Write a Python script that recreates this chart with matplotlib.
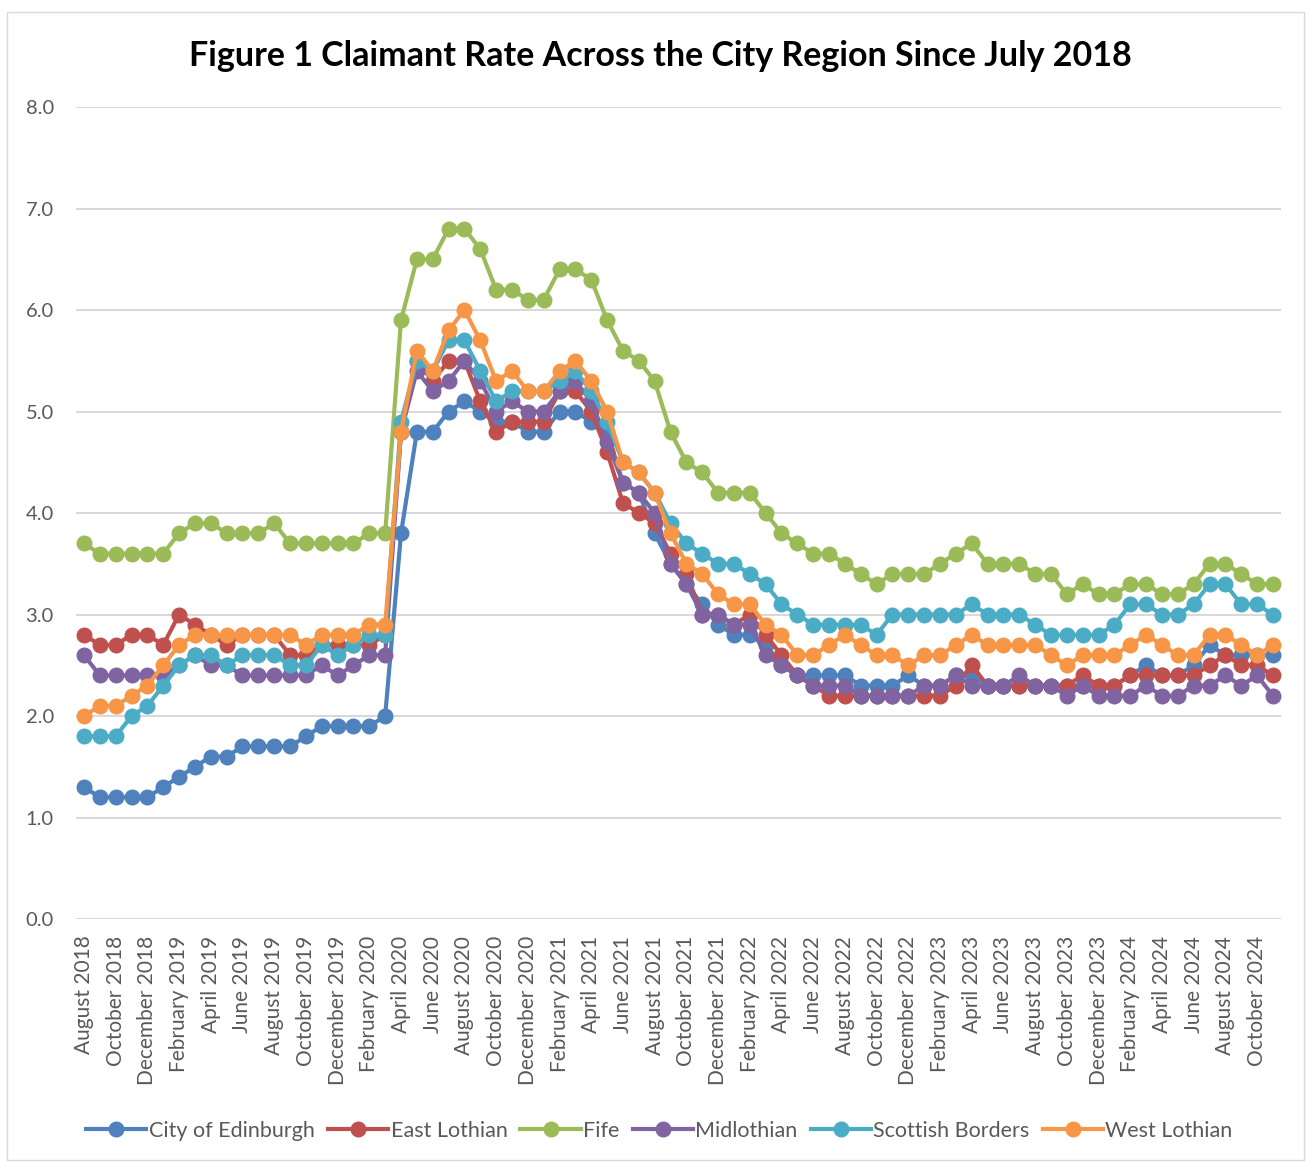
import matplotlib
matplotlib.use('Agg')
import matplotlib.pyplot as plt
from matplotlib.patches import Rectangle
import numpy as np
import pandas as pd

# monthly claimant rate, August 2018 - November 2024
months = pd.date_range('2018-08-01', periods=76, freq='MS').strftime('%B %Y').tolist()

edinburgh = [1.3, 1.2, 1.2, 1.2, 1.2, 1.3, 1.4, 1.5, 1.6, 1.6, 1.7, 1.7, 1.7, 1.7, 1.8, 1.9, 1.9, 1.9, 1.9, 2.0,
             3.8, 4.8, 4.8, 5.0, 5.1, 5.0, 4.9, 4.9, 4.8, 4.8, 5.0, 5.0, 4.9, 4.8, 4.3, 4.2, 3.8, 3.5, 3.3, 3.1,
             2.9, 2.8, 2.8, 2.7, 2.5, 2.4, 2.4, 2.4, 2.4, 2.3, 2.3, 2.3, 2.4, 2.3, 2.3, 2.4, 2.4, 2.3, 2.3, 2.3,
             2.3, 2.3, 2.3, 2.3, 2.3, 2.3, 2.4, 2.5, 2.4, 2.4, 2.5, 2.7, 2.6, 2.6, 2.6, 2.6]
east_lothian = [2.8, 2.7, 2.7, 2.8, 2.8, 2.7, 3.0, 2.9, 2.8, 2.7, 2.8, 2.8, 2.8, 2.6, 2.6, 2.7, 2.7, 2.7, 2.7, 2.8,
                4.8, 5.5, 5.3, 5.5, 5.5, 5.1, 4.8, 4.9, 4.9, 4.9, 5.2, 5.2, 5.0, 4.6, 4.1, 4.0, 3.9, 3.6, 3.4, 3.0,
                3.0, 2.9, 3.0, 2.8, 2.6, 2.4, 2.3, 2.2, 2.2, 2.2, 2.2, 2.2, 2.2, 2.2, 2.2, 2.3, 2.5, 2.3, 2.3, 2.3,
                2.3, 2.3, 2.3, 2.4, 2.3, 2.3, 2.4, 2.4, 2.4, 2.4, 2.4, 2.5, 2.6, 2.5, 2.5, 2.4]
fife = [3.7, 3.6, 3.6, 3.6, 3.6, 3.6, 3.8, 3.9, 3.9, 3.8, 3.8, 3.8, 3.9, 3.7, 3.7, 3.7, 3.7, 3.7, 3.8, 3.8,
        5.9, 6.5, 6.5, 6.8, 6.8, 6.6, 6.2, 6.2, 6.1, 6.1, 6.4, 6.4, 6.3, 5.9, 5.6, 5.5, 5.3, 4.8, 4.5, 4.4,
        4.2, 4.2, 4.2, 4.0, 3.8, 3.7, 3.6, 3.6, 3.5, 3.4, 3.3, 3.4, 3.4, 3.4, 3.5, 3.6, 3.7, 3.5, 3.5, 3.5,
        3.4, 3.4, 3.2, 3.3, 3.2, 3.2, 3.3, 3.3, 3.2, 3.2, 3.3, 3.5, 3.5, 3.4, 3.3, 3.3]
midlothian = [2.6, 2.4, 2.4, 2.4, 2.4, 2.4, 2.5, 2.6, 2.5, 2.5, 2.4, 2.4, 2.4, 2.4, 2.4, 2.5, 2.4, 2.5, 2.6, 2.6,
              4.8, 5.4, 5.2, 5.3, 5.5, 5.3, 5.0, 5.1, 5.0, 5.0, 5.2, 5.3, 5.1, 4.7, 4.3, 4.2, 4.0, 3.5, 3.3, 3.0,
              3.0, 2.9, 2.9, 2.6, 2.5, 2.4, 2.3, 2.3, 2.3, 2.2, 2.2, 2.2, 2.2, 2.3, 2.3, 2.4, 2.3, 2.3, 2.3, 2.4,
              2.3, 2.3, 2.2, 2.3, 2.2, 2.2, 2.2, 2.3, 2.2, 2.2, 2.3, 2.3, 2.4, 2.3, 2.4, 2.2]
borders = [1.8, 1.8, 1.8, 2.0, 2.1, 2.3, 2.5, 2.6, 2.6, 2.5, 2.6, 2.6, 2.6, 2.5, 2.5, 2.7, 2.6, 2.7, 2.8, 2.8,
           4.9, 5.5, 5.4, 5.7, 5.7, 5.4, 5.1, 5.2, 5.2, 5.2, 5.3, 5.4, 5.2, 4.9, 4.5, 4.4, 4.2, 3.9, 3.7, 3.6,
           3.5, 3.5, 3.4, 3.3, 3.1, 3.0, 2.9, 2.9, 2.9, 2.9, 2.8, 3.0, 3.0, 3.0, 3.0, 3.0, 3.1, 3.0, 3.0, 3.0,
           2.9, 2.8, 2.8, 2.8, 2.8, 2.9, 3.1, 3.1, 3.0, 3.0, 3.1, 3.3, 3.3, 3.1, 3.1, 3.0]
west_lothian = [2.0, 2.1, 2.1, 2.2, 2.3, 2.5, 2.7, 2.8, 2.8, 2.8, 2.8, 2.8, 2.8, 2.8, 2.7, 2.8, 2.8, 2.8, 2.9, 2.9,
                4.8, 5.6, 5.4, 5.8, 6.0, 5.7, 5.3, 5.4, 5.2, 5.2, 5.4, 5.5, 5.3, 5.0, 4.5, 4.4, 4.2, 3.8, 3.5, 3.4,
                3.2, 3.1, 3.1, 2.9, 2.8, 2.6, 2.6, 2.7, 2.8, 2.7, 2.6, 2.6, 2.5, 2.6, 2.6, 2.7, 2.8, 2.7, 2.7, 2.7,
                2.7, 2.6, 2.5, 2.6, 2.6, 2.6, 2.7, 2.8, 2.7, 2.6, 2.6, 2.8, 2.8, 2.7, 2.6, 2.7]

names = ['City of Edinburgh', 'East Lothian', 'Fife', 'Midlothian', 'Scottish Borders', 'West Lothian']
series = [edinburgh, east_lothian, fife, midlothian, borders, west_lothian]
colors = ['#4F81BD', '#C0504D', '#9BBB59', '#8064A2', '#4BACC6', '#F79646']

plt.rcParams['font.family'] = ['Lato', 'DejaVu Sans']

fig = plt.figure(figsize=(13.11, 11.62), dpi=100)
ax = fig.add_axes([0.058, 0.2091, 0.919, 0.6988])

x = np.arange(len(months))
for vals, name, c in zip(series, names, colors):
    ax.plot(x, vals, color=c, lw=3, marker='o', ms=10.5, label=name)

ax.set_xlim(-0.5, len(months) - 0.5)
ax.set_ylim(0, 8)
ax.set_yticks(np.arange(0, 8.1, 1.0))
ax.set_yticklabels(['%.1f' % v for v in np.arange(0, 8.1, 1.0)], fontsize=14.5, color='#595959')
ax.set_xticks(x[::2])
ax.set_xticklabels(months[::2], rotation=90, fontsize=15, color='#595959')
ax.tick_params(axis='y', length=0, pad=16)
ax.tick_params(axis='x', length=0, pad=12)
ax.grid(axis='y', color='#d9d9d9', lw=1.5)
ax.set_axisbelow(True)
for s in ax.spines.values():
    s.set_visible(False)

fig.suptitle('Figure 1 Claimant Rate Across the City Region Since July 2018',
             x=0.504, y=0.966, fontsize=24.5, fontweight='bold')

fig.legend(loc='center', bbox_to_anchor=(0.503, 0.027), ncol=6, frameon=False,
           fontsize=15.5, handlelength=2.8, columnspacing=0.6, handletextpad=0.12,
           labelcolor='#595959')

fig.patches.append(Rectangle((0.005, 0.002), 0.99, 0.988, transform=fig.transFigure,
                             fill=False, ec='#d9d9d9', lw=1))

fig.savefig('out.png', dpi=100)
